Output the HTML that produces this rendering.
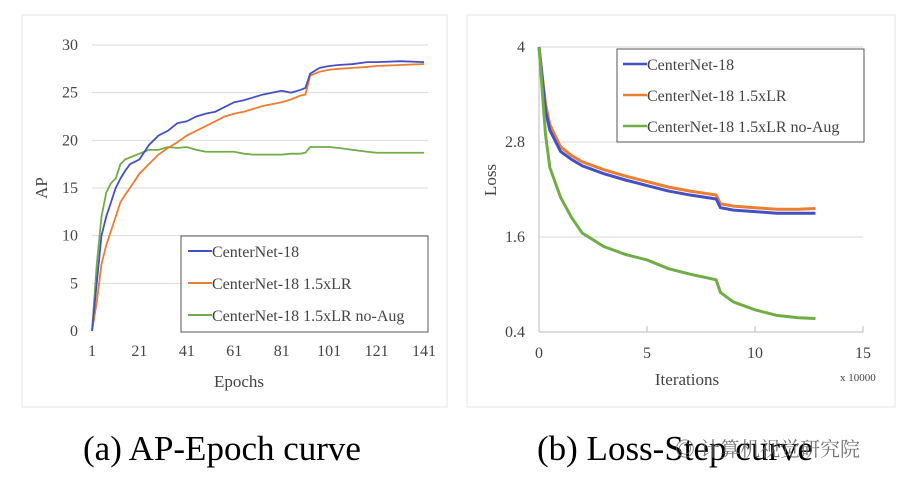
<!DOCTYPE html>
<html><head><meta charset="utf-8"><style>
body{margin:0;background:#fff;width:916px;height:488px;overflow:hidden;font-family:"Liberation Serif",serif}
svg text{font-family:"Liberation Serif","Noto Serif CJK SC",serif}
</style></head><body>
<svg id="s" width="916" height="488">
<rect x="22" y="15" width="425" height="392" fill="#fff" stroke="#e6e6e6"/>
<rect x="467" y="15" width="428" height="392" fill="#fff" stroke="#e6e6e6"/>
<g id="A"></g><g id="B"></g>
<text x="83" y="460" font-size="35" fill="#000">(a) AP-Epoch curve</text>
<text x="537" y="460" font-size="35" fill="#000">(b) Loss-Step curve</text>
<text x="675" y="456" font-size="20" fill="#666" opacity="0.9">◎ 计算机视觉研究院</text>
</svg>
<script>
const apEpochs=[1,3,5,7,9,11,13,15,17,21,25,29,33,37,41,45,49,53,57,61,65,69,73,77,81,85,89,91,93,97,101,105,111,117,121,131,141];
const apBlue=[0,5,10,12,13.5,15,16,16.8,17.5,18,19.5,20.5,21,21.8,22,22.5,22.8,23,23.5,24,24.2,24.5,24.8,25,25.2,25,25.3,25.5,27,27.6,27.8,27.9,28,28.2,28.2,28.3,28.2];
const apOrange=[0,3,7,9,10.5,12,13.5,14.3,15,16.5,17.5,18.5,19.2,19.8,20.5,21,21.5,22,22.5,22.8,23,23.3,23.6,23.8,24,24.3,24.7,24.8,26.8,27.2,27.4,27.5,27.6,27.7,27.8,27.9,28];
const apGreen=[0,7,12,14.5,15.5,16,17.5,18,18.2,18.6,19,19,19.3,19.2,19.3,19,18.8,18.8,18.8,18.8,18.6,18.5,18.5,18.5,18.5,18.6,18.6,18.7,19.3,19.3,19.3,19.2,19,18.8,18.7,18.7,18.7];
const apYTicks=[0,5,10,15,20,25,30];
const apXTicks=[1,21,41,61,81,101,121,141];
const lsIter=[0,0.3,0.5,1,1.5,2,3,4,5,6,7,8.2,8.4,9,10,11,12,12.8];
const lsBlue=[4,3.2,2.95,2.68,2.58,2.5,2.4,2.32,2.25,2.18,2.13,2.08,1.97,1.94,1.92,1.9,1.9,1.9];
const lsOrange=[4,3.28,3.02,2.74,2.63,2.55,2.45,2.37,2.3,2.23,2.18,2.13,2.02,1.99,1.97,1.95,1.95,1.96];
const lsGreen=[4,2.9,2.48,2.1,1.85,1.65,1.48,1.38,1.31,1.2,1.13,1.06,0.9,0.78,0.68,0.61,0.58,0.57];
const lsYTicks=[0.4,1.6,2.8,4];
const lsXTicks=[0,5,10,15];
const NS='http://www.w3.org/2000/svg';
function mk(p,t,a,txt){const e=document.createElementNS(NS,t);for(const k in a)e.setAttribute(k,a[k]);if(txt!=null)e.textContent=txt;p.appendChild(e);return e;}
const C={b:'#4451c4',o:'#ec7d31',g:'#70ad47'};
const A=document.getElementById('A');
const ax=v=>92+(v-1)/140*332, ay=v=>331-v/30*286;
apYTicks.forEach(t=>{if(t>0){const l=mk(A,'line',{x1:92,x2:428,y1:ay(t),y2:ay(t),stroke:'#d9d9d9'});

}
const tx=mk(A,'text',{x:78,y:ay(t)+5,'font-size':16,'text-anchor':'end',fill:'#444'},t);

});
apXTicks.forEach(t=>{const tx=mk(A,'text',{x:ax(t),y:356,'font-size':16,'text-anchor':'middle',fill:'#444'},t);

});
[[apGreen,C.g,'series-no-aug'],[apOrange,C.o,'series-1-5xlr'],[apBlue,C.b,'series-centernet-18']].forEach(([d,c,n])=>{
const p=mk(A,'polyline',{points:d.map((v,i)=>ax(apEpochs[i])+','+ay(v)).join(' '),fill:'none',stroke:c,'stroke-width':1.8});

});
let t1=mk(A,'text',{x:239,y:387,'font-size':17,'text-anchor':'middle',fill:'#444'},'Epochs');


let t2=mk(A,'text',{x:0,y:0,'font-size':17,'text-anchor':'middle',fill:'#444',transform:'translate(47,188) rotate(-90)'},'AP');


let lg=mk(A,'g',{});


mk(lg,'rect',{x:181,y:236,width:247,height:96,fill:'#fff',stroke:'#555'});
[['CenterNet-18',C.b],['CenterNet-18 1.5xLR',C.o],['CenterNet-18 1.5xLR no-Aug',C.g]].forEach(([s,c],i)=>{
const y=251+i*32;mk(lg,'line',{x1:188,x2:212,y1:y,y2:y,stroke:c,'stroke-width':2});
const e=mk(lg,'text',{x:212,y:y+6,'font-size':16,fill:'#444'},s);

});
const B=document.getElementById('B');
const bx=v=>539+v/15*324, by=v=>332-(v-0.4)/3.6*285;
lsYTicks.forEach(t=>{if(t>0.4){const l=mk(B,'line',{x1:539,x2:863,y1:by(t),y2:by(t),stroke:'#d9d9d9'});

}
const tx=mk(B,'text',{x:525,y:by(t)+5,'font-size':16,'text-anchor':'end',fill:'#444'},t);

});
mk(B,'line',{x1:539,x2:539,y1:47,y2:332,stroke:'#bbb'});
mk(B,'line',{x1:539,x2:863,y1:332,y2:332,stroke:'#bbb'});
lsXTicks.forEach(t=>{mk(B,'line',{x1:bx(t),x2:bx(t),y1:332,y2:326,stroke:'#bbb'});
const tx=mk(B,'text',{x:bx(t),y:358,'font-size':16,'text-anchor':'middle',fill:'#444'},t);

});
[[lsOrange,C.o,'loss-1-5xlr'],[lsBlue,C.b,'loss-centernet-18'],[lsGreen,C.g,'loss-no-aug']].forEach(([d,c,n])=>{
const p=mk(B,'polyline',{points:d.map((v,i)=>bx(lsIter[i])+','+by(v)).join(' '),fill:'none',stroke:c,'stroke-width':3});

});
let t3=mk(B,'text',{x:687,y:385,'font-size':17,'text-anchor':'middle',fill:'#444'},'Iterations');


let t5=mk(B,'text',{x:840,y:381,'font-size':11,fill:'#444'},'x 10000');


let t4=mk(B,'text',{x:0,y:0,'font-size':17,'text-anchor':'middle',fill:'#444',transform:'translate(496,180) rotate(-90)'},'Loss');


let lg2=mk(B,'g',{});


mk(lg2,'rect',{x:617,y:49,width:247,height:93,fill:'#fff',stroke:'#555'});
[['CenterNet-18',C.b],['CenterNet-18 1.5xLR',C.o],['CenterNet-18 1.5xLR no-Aug',C.g]].forEach(([s,c],i)=>{
const y=64+i*31;mk(lg2,'line',{x1:623,x2:647,y1:y,y2:y,stroke:c,'stroke-width':2.5});
const e=mk(lg2,'text',{x:647,y:y+6,'font-size':16,fill:'#444'},s);

});
</script>
</body></html>
